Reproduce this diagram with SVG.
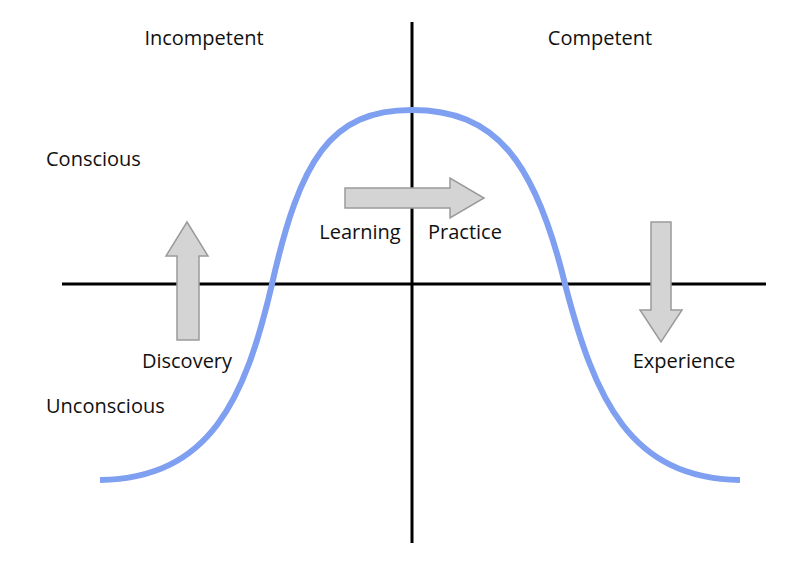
<svg xmlns="http://www.w3.org/2000/svg" width="800" height="561" viewBox="0 0 800 561">
<style>
.t{font-family:"Open Sans","Liberation Sans",Arial,sans-serif;font-size:20px;fill:#111}
.ax{stroke:#000;stroke-width:3;fill:none}
.ar{fill:#d4d4d4;stroke:#9a9a9a;stroke-width:1.5}
</style>
<rect width="800" height="561" fill="#fff"/>
<g id="connectors">
<line class="ax" x1="412" y1="22" x2="412" y2="543"/>
<line class="ax" x1="62" y1="284" x2="766" y2="284"/>
<path d="M100,480 C210,478 245,400 272,284 C300,160 330,110 412,110 C495,110 535,160 565,284 C595,400 630,478 740,480" fill="none" stroke="#7f9ff0" stroke-width="6"/>
</g>
<g id="arrow-discovery"><polygon class="ar" points="177,340 199,340 199,256 208,256 187,222 166,256 177,256"/></g>
<g id="arrow-practice"><polygon class="ar" points="345,188 450,188 450,178 484,198 450,218 450,208 345,208"/></g>
<g id="arrow-experience"><polygon class="ar" points="651,222 671,222 671,310 682,310 661,342 640,310 651,310"/></g>
<g id="labels">
<text class="t" x="204" y="45" text-anchor="middle">Incompetent</text>
<text class="t" x="600" y="45" text-anchor="middle">Competent</text>
<text class="t" x="46" y="166">Conscious</text>
<text class="t" x="46" y="413">Unconscious</text>
<text class="t" x="187" y="368" text-anchor="middle">Discovery</text>
<text class="t" x="360" y="239" text-anchor="middle">Learning</text>
<text class="t" x="465" y="239" text-anchor="middle">Practice</text>
<text class="t" x="684" y="368" text-anchor="middle">Experience</text>
</g>
</svg>
